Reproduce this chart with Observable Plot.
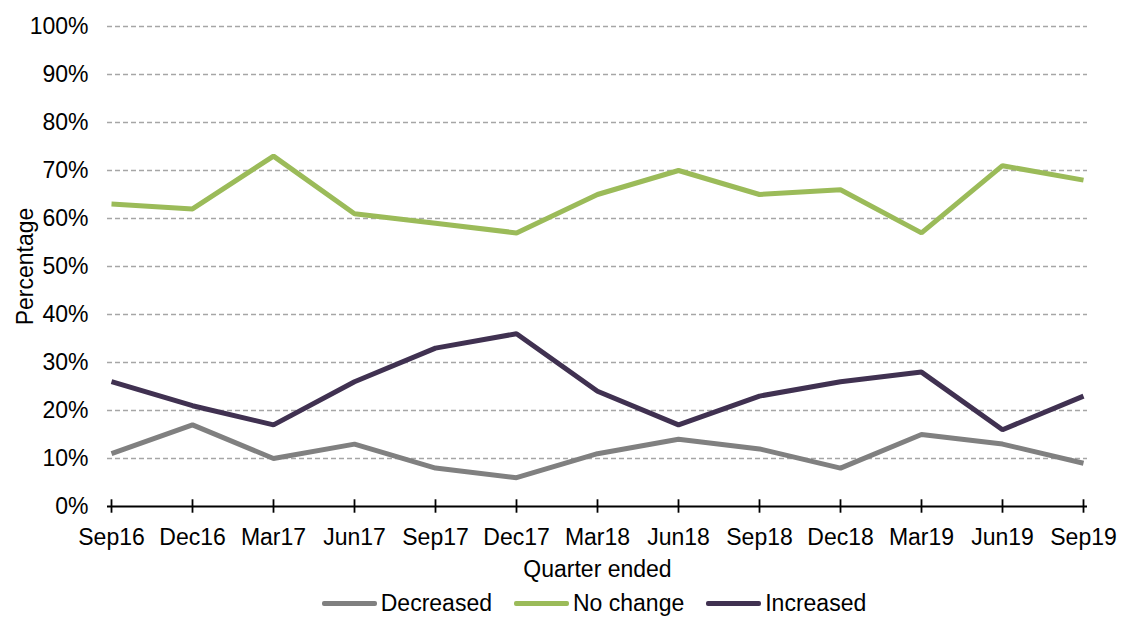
<!DOCTYPE html>
<html>
<head>
<meta charset="utf-8">
<script src="https://cdn.jsdelivr.net/npm/d3@7"></script>
<script src="https://cdn.jsdelivr.net/npm/@observablehq/plot@0.6"></script>
<style>
  html, body { margin: 0; padding: 0; background: #fff; overflow: hidden; }
  body { font-family: "Liberation Sans", Arial, sans-serif; }
  #legend { display: flex; justify-content: center; align-items: center; gap: 22px;
            font-size: 23px; line-height: 26px; color: #000; height: 26px; margin-left: 62px; }
  .item { display: flex; align-items: center; gap: 4px; }
  .swatch { width: 55px; height: 5px; border-radius: 2px; }
</style>
</head>
<body>
<div id="chart"></div>
<div id="legend"></div>
<script>
// Quarterly survey shares (%) of respondents by reported change
const quarters = ["Sep16", "Dec16", "Mar17", "Jun17", "Sep17", "Dec17", "Mar18",
                  "Jun18", "Sep18", "Dec18", "Mar19", "Jun19", "Sep19"];
const decreased = [11, 17, 10, 13, 8, 6, 11, 14, 12, 8, 15, 13, 9];
const noChange  = [63, 62, 73, 61, 59, 57, 65, 70, 65, 66, 57, 71, 68];
const increased = [26, 21, 17, 26, 33, 36, 24, 17, 23, 26, 28, 16, 23];

const seriesNames = ["Decreased", "No change", "Increased"];
const seriesColors = ["#808080", "#9BBB59", "#403151"];
const yTicks = [0, 10, 20, 30, 40, 50, 60, 70, 80, 90, 100];
const gridTicks = yTicks.filter(t => t > 0);

const rows = [];
[decreased, noChange, increased].forEach((values, s) => {
  values.forEach((v, i) => rows.push({quarter: quarters[i], value: v, series: seriesNames[s]}));
});

const font = "Liberation Sans, Arial, sans-serif";

const chart = Plot.plot({
  width: 1126,
  height: 590,
  marginTop: 26,
  marginBottom: 84,
  marginLeft: 107,
  marginRight: 39,
  style: {fontFamily: font, fontSize: "23px", color: "#000", background: "#fff"},
  x: {type: "point", domain: quarters, padding: 0},
  y: {domain: [0, 100]},
  color: {domain: seriesNames, range: seriesColors},
  marks: [
    Plot.gridY(gridTicks, {stroke: "#a6a6a6", strokeOpacity: 1, strokeWidth: 1.4, strokeDasharray: "5,3"}),
    Plot.axisY(yTicks, {tickSize: 0, tickPadding: 19, tickFormat: d => d + "%", fontSize: 23, label: null}),
    Plot.axisX({tickSize: 0, tickPadding: 22, fontSize: 23, label: null}),
    Plot.ruleY([0], {stroke: "#000", strokeWidth: 1.8}),
    Plot.ruleX(quarters, {x: d => d, y1: -1.4, y2: 1.4, stroke: "#000", strokeWidth: 1.8}),
    Plot.line(rows, {x: "quarter", y: "value", z: "series", stroke: "series",
                     strokeWidth: 5, strokeLinejoin: "miter", strokeLinecap: "butt"}),
    Plot.text(["Quarter ended"], {frameAnchor: "bottom", dy: 70, fontSize: 23, fill: "#000"}),
    Plot.text(["Percentage"], {frameAnchor: "left", textAnchor: "middle", dx: -82, rotate: -90, fontSize: 23, fill: "#000"})
  ]
});
document.getElementById("chart").appendChild(chart);

// Line-swatch legend below the plot
const legend = document.getElementById("legend");
seriesNames.forEach((name, i) => {
  const item = document.createElement("div");
  item.className = "item";
  const sw = document.createElement("span");
  sw.className = "swatch";
  sw.style.background = seriesColors[i];
  const label = document.createElement("span");
  label.textContent = name;
  item.appendChild(sw);
  item.appendChild(label);
  legend.appendChild(item);
});
</script>
</body>
</html>
